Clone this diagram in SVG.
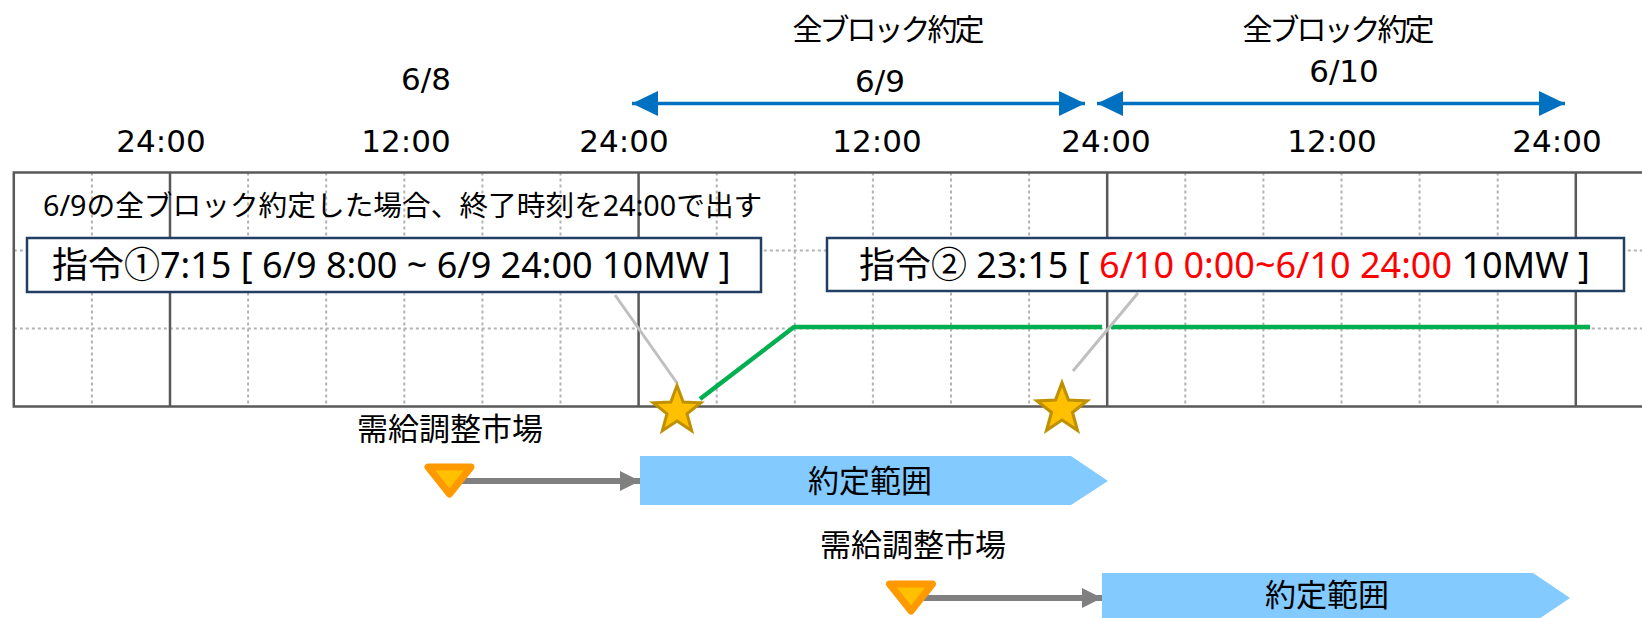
<svg xmlns="http://www.w3.org/2000/svg" width="1642" height="618" viewBox="0 0 1642 618">
<style>
.jp{font-family:'Noto Sans','Noto Sans CJK JP',sans-serif;fill:#000}
.tm{font-family:'DejaVu Sans',sans-serif;font-size:31px;fill:#000;text-anchor:middle}
.grid{stroke:#b3b3b3;stroke-width:2;stroke-dasharray:3 3;fill:none}
.solid{stroke:#595959;stroke-width:2.5;fill:none}
.box{fill:#fff;stroke:#203f63;stroke-width:2.5}
.leader{stroke:#bfbfbf;stroke-width:3;fill:none}
.green{stroke:#00b050;stroke-width:4.5;fill:none;stroke-linejoin:round}
.blue{stroke:#0070c0;stroke-width:3.5;fill:none}
.gray{stroke:#808080;stroke-width:6;fill:none}
.range{fill:#82caff}
.star{fill:#ffc000;stroke:#bf9000;stroke-width:3;stroke-linejoin:miter}
.tri{fill:#ffc000;stroke:#ff9900;stroke-width:7;stroke-linejoin:round}
</style>
<defs>
<marker id="bh" viewBox="0 0 26 25" markerWidth="26" markerHeight="25" refX="26" refY="12.5" markerUnits="userSpaceOnUse" orient="auto-start-reverse">
<path d="M0,0 L26,12.5 L0,25 Z" fill="#0070c0"/>
</marker>
<marker id="gh" viewBox="0 0 20 20" markerWidth="20" markerHeight="20" refX="20" refY="10" markerUnits="userSpaceOnUse" orient="auto">
<path d="M0,0 L20,10 L0,20 Z" fill="#808080"/>
</marker>
<path id="starShape" d="M0,-25 L6.17,-8.49 L23.78,-7.73 L9.99,3.24 L14.69,20.23 L0,10.5 L-14.69,20.23 L-9.99,3.24 L-23.78,-7.73 L-6.17,-8.49 Z"/>
<path id="triShape" d="M-21.5,0 L21.5,0 L0,27 Z"/>
</defs>

<g id="chart-grid">
<path class="grid" d="M13.8,250.5 H1642 M13.8,328.5 H1642"/>
<path class="grid" d="M91.9,172.5 V406.5 M248.1,172.5 V406.5 M326.2,172.5 V406.5 M404.3,172.5 V406.5 M482.4,172.5 V406.5 M560.5,172.5 V406.5 M716.7,172.5 V406.5 M794.8,172.5 V406.5 M872.9,172.5 V406.5 M951,172.5 V406.5 M1029.1,172.5 V406.5 M1185.3,172.5 V406.5 M1263.4,172.5 V406.5 M1341.5,172.5 V406.5 M1419.6,172.5 V406.5 M1497.7,172.5 V406.5"/>
<path class="solid" d="M1642,172.5 H13.8 V406.5 H1642 M170,172.5 V406.5 M638.6,172.5 V406.5 M1107.2,172.5 V406.5 M1575.8,172.5 V406.5"/>
</g>

<g id="time-labels">
<text class="tm" x="161" y="152">24:00</text>
<text class="tm" x="406" y="152">12:00</text>
<text class="tm" x="624" y="152">24:00</text>
<text class="tm" x="877" y="152">12:00</text>
<text class="tm" x="1106" y="152">24:00</text>
<text class="tm" x="1332" y="152">12:00</text>
<text class="tm" x="1557" y="152">24:00</text>
<text class="tm" x="426" y="90">6/8</text>
<text class="tm" x="880" y="92">6/9</text>
<text class="tm" x="1344" y="82">6/10</text>
</g>

<g id="block-labels">
<text class="jp" x="887" y="40" font-size="30" letter-spacing="-3" text-anchor="middle">全ブロック約定</text>
<text class="jp" x="1337" y="40" font-size="30" letter-spacing="-3" text-anchor="middle">全ブロック約定</text>
</g>

<g id="connectors">
<line class="blue" x1="632" y1="103.5" x2="1085" y2="103.5" marker-start="url(#bh)" marker-end="url(#bh)"/>
<line class="blue" x1="1097" y1="103.5" x2="1565" y2="103.5" marker-start="url(#bh)" marker-end="url(#bh)"/>
<polyline class="green" points="700,399 794,327 1102,327"/>
<line class="green" x1="1111" y1="327" x2="1590" y2="327"/>
<line class="leader" x1="615" y1="295" x2="677" y2="383"/>
<line class="leader" x1="1138" y1="293" x2="1073" y2="371"/>
<line class="gray" x1="461" y1="481" x2="640" y2="481" marker-end="url(#gh)"/>
<line class="gray" x1="921" y1="598" x2="1102" y2="598" marker-end="url(#gh)"/>
</g>

<g id="note">
<text class="jp" x="43" y="216" font-size="28.7">6/9の全ブロック約定した場合、終了時刻を24:00で出す</text>
</g>

<g id="order1">
<rect class="box" x="27" y="238" width="734" height="54"/>
<text class="jp" x="52" y="278" font-size="36">指令①7:15 [ 6/9 8:00 ~ 6/9 24:00 10MW ]</text>
</g>

<g id="order2">
<rect class="box" x="827" y="238" width="797" height="53"/>
<text class="jp" x="859" y="278" font-size="36">指令② 23:15 [ <tspan fill="#ff0000">6/10 0:00~6/10 24:00</tspan> 10MW ]</text>
</g>

<g id="star1"><use href="#starShape" class="star" transform="translate(677,410.5)"/></g>
<g id="star2"><use href="#starShape" class="star" transform="translate(1062,409) scale(1.05)"/></g>

<g id="market1">
<text class="jp" x="357" y="440" font-size="31">需給調整市場</text>
<use href="#triShape" class="tri" transform="translate(449.5,467)"/>
</g>

<g id="range1">
<polygon class="range" points="640,456 1071,456 1108,481 1071,505 640,505"/>
<text class="jp" x="870" y="492" font-size="31" text-anchor="middle">約定範囲</text>
</g>

<g id="market2">
<text class="jp" x="820" y="556" font-size="31">需給調整市場</text>
<use href="#triShape" class="tri" transform="translate(911,584)"/>
</g>

<g id="range2">
<polygon class="range" points="1102,573 1533,573 1570,598 1533,623 1102,623"/>
<text class="jp" x="1327" y="606" font-size="31" text-anchor="middle">約定範囲</text>
</g>
</svg>
